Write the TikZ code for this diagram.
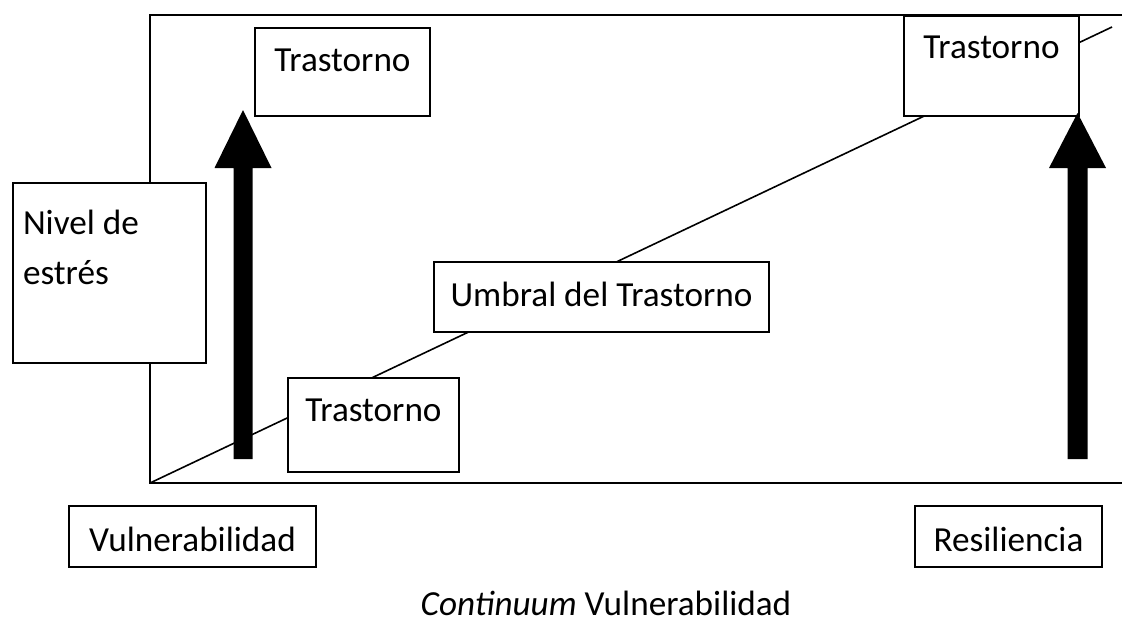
\documentclass[tikz,border=0pt]{standalone}
\usepackage{fontspec}
\setmainfont{Carlito}
\begin{document}
\begin{tikzpicture}[x=0.5pt,y=-0.5pt,
  every node/.style={font=\fontsize{17.6pt}{21pt}\selectfont},
  box/.style={draw, line width=1pt, fill=white, inner sep=0pt, anchor=north west},
  frameline/.style={line width=1pt},
  diag/.style={line width=0.8pt},
  blockarrow/.style={fill=black}]
\useasboundingbox (0,0) rectangle (1122,622);
% frame
\coordinate (fTL) at (150,15);
\coordinate (fTR) at (1122,15);
\coordinate (fBL) at (150,483);
\coordinate (fBR) at (1122,483);
\draw[frameline] (fTR) -- (fTL) -- (fBL) -- (fBR);
% threshold line
\coordinate (dEnd) at (1112,27);
\draw[diag] (fBL) -- (dEnd);
% boxes
\node[box, minimum width=87.5pt, text height=21.5pt, text depth=22.5pt] (t1) at (254,27) {Trastorno};
\node[box, minimum width=87.5pt, text height=21pt, text depth=29pt] (t2) at (903,15) {Trastorno};
\node[box, minimum width=85.5pt, text height=21.5pt, text depth=25.5pt] (t3) at (287,377) {Trastorno};
\node[box, minimum width=167.5pt, text height=22pt, text depth=13pt] (umbral) at (433,261) {Umbral del Trastorno};
\node[box, inner xsep=5pt, text height=25.5pt, text depth=64.5pt] (nivel) at (12,182)
  {\parbox[t]{86.5pt}{\raggedright\baselineskip=25pt Nivel de\\estrés}};
\node[box, minimum width=123.5pt, text height=22.5pt, text depth=8pt] (vul) at (68,505) {Vulnerabilidad};
\node[box, minimum width=93.5pt, text height=22.5pt, text depth=8pt] (res) at (914,505) {Resiliencia};
\node[anchor=base, inner sep=0pt] (cap) at (606,615) {\textit{Continuum} Vulnerabilidad};
% block arrows
\coordinate (a1b) at (243,459);
\coordinate (a1t) at (243,110);
\fill[blockarrow] (a1b) ++(-9.5,0) -- ++(0,-291) -- ++(-19,0) -- (a1t) -- ++(28.5,58) -- ++(-19,0) -- ++(0,291) -- cycle;
\coordinate (a2b) at (1077.5,459);
\coordinate (a2t) at (1077.5,113);
\fill[blockarrow] (a2b) ++(-10,0) -- ++(0,-291) -- ++(-18.5,0) -- (a2t) -- ++(28.5,55) -- ++(-18.5,0) -- ++(0,291) -- cycle;
\end{tikzpicture}
\end{document}
